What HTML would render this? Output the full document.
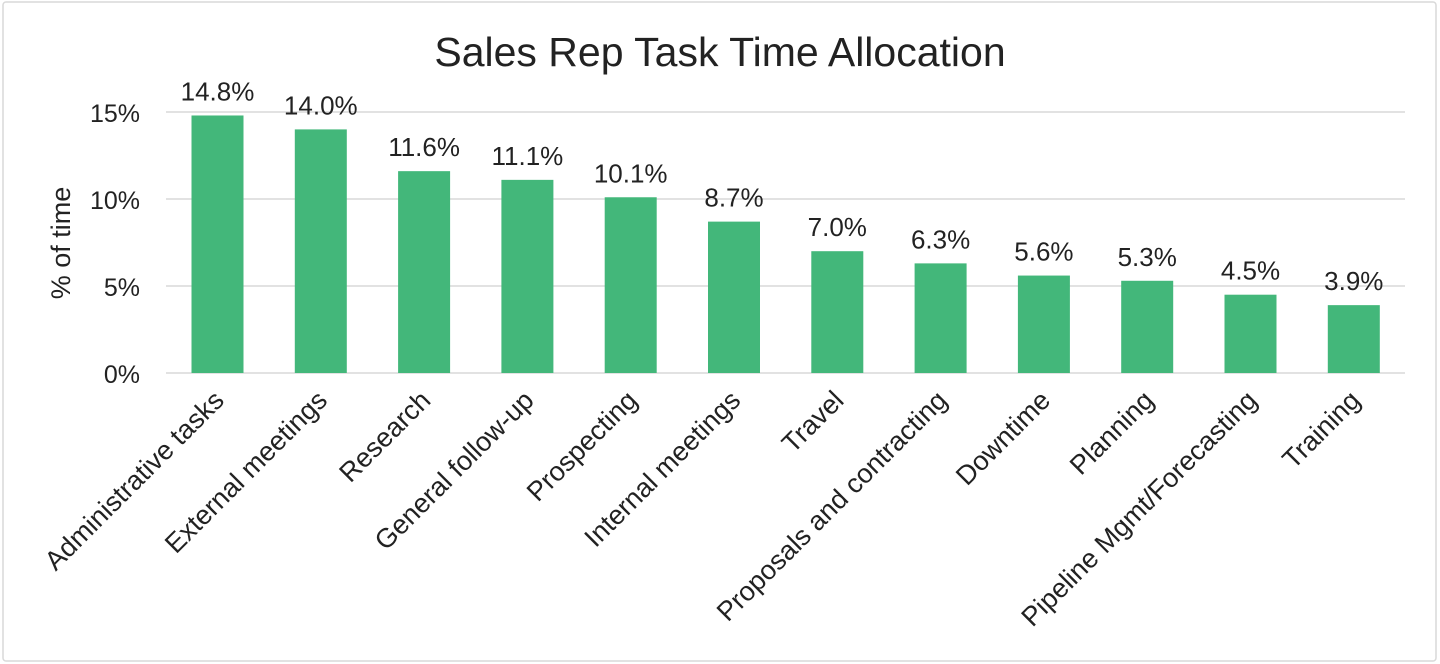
<!DOCTYPE html>
<html><head><meta charset="utf-8"><style>
html,body{margin:0;padding:0;background:#fff;}
svg{display:block;font-family:"Liberation Sans",sans-serif;}
</style></head><body>
<svg width="1440" height="664" viewBox="0 0 1440 664" xmlns="http://www.w3.org/2000/svg">
<rect x="3" y="2" width="1433" height="659" fill="#fff" stroke="#d9d9d9" stroke-width="1.5" rx="3"/>
<text x="720" y="66" text-anchor="middle" font-size="41" fill="#222">Sales Rep Task Time Allocation</text>
<g stroke="#d9d9d9" stroke-width="1.5">
<line x1="166" x2="1405" y1="112" y2="112"/>
<line x1="166" x2="1405" y1="199" y2="199"/>
<line x1="166" x2="1405" y1="286" y2="286"/>
<line x1="166" x2="1405" y1="373" y2="373"/>
</g>
<g font-size="25" fill="#222" text-anchor="end">
<text x="140" y="122">15%</text>
<text x="140" y="209">10%</text>
<text x="140" y="296">5%</text>
<text x="140" y="383">0%</text>
</g>
<text transform="translate(70,243) rotate(-90)" text-anchor="middle" font-size="27" fill="#222">% of time</text>
<g id="bars" fill="#43b77a"></g>
<g id="vals" font-size="26" fill="#222" text-anchor="middle"></g>
<g id="labs" font-size="27" fill="#222" text-anchor="end"></g>
<script>
var d=[["Administrative tasks",14.8],["External meetings",14.0],["Research",11.6],["General follow-up",11.1],["Prospecting",10.1],["Internal meetings",8.7],["Travel",7.0],["Proposals and contracting",6.3],["Downtime",5.6],["Planning",5.3],["Pipeline Mgmt/Forecasting",4.5],["Training",3.9]];
var ns="http://www.w3.org/2000/svg",b=document.getElementById("bars"),v=document.getElementById("vals"),l=document.getElementById("labs");
d.forEach(function(e,i){var cx=217.5+i*103.3,h=e[1]*17.4,y=373-h;
var r=document.createElementNS(ns,"rect");r.setAttribute("x",cx-26);r.setAttribute("y",y);r.setAttribute("width",52);r.setAttribute("height",h);b.appendChild(r);
var t=document.createElementNS(ns,"text");t.setAttribute("x",cx);t.setAttribute("y",y-15);t.textContent=e[1].toFixed(1)+"%";v.appendChild(t);
var u=document.createElementNS(ns,"text");u.setAttribute("transform","translate("+(cx+8)+",402) rotate(-45)");u.textContent=e[0];l.appendChild(u);});
</script>
</svg>
</body></html>
